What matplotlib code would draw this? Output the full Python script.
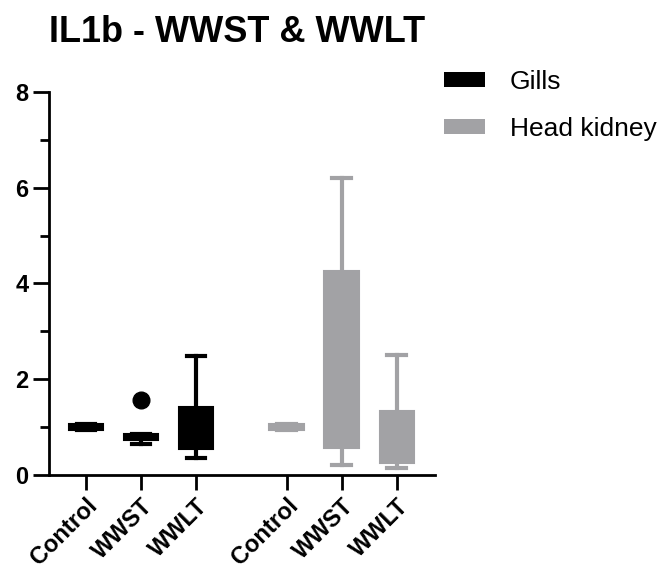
import matplotlib
matplotlib.use("Agg")
import matplotlib.pyplot as plt
from matplotlib.patches import Patch
from matplotlib.ticker import MultipleLocator

plt.rcParams['font.family'] = ['Liberation Sans', 'DejaVu Sans']

# box statistics (gills first, then head kidney)
groups = ["Control", "WWST", "WWLT", "Control", "WWST", "WWLT"]
tissue = ["Gills", "Gills", "Gills", "Head kidney", "Head kidney", "Head kidney"]
q1 = [0.94, 0.73, 0.55, 0.94, 0.57, 0.26]
med = [1.0, 0.80, 0.90, 1.0, 1.50, 0.60]
q3 = [1.06, 0.86, 1.41, 1.06, 4.27, 1.34]
whislo = [0.94, 0.65, 0.36, 0.94, 0.20, 0.15]
whishi = [1.06, 0.86, 2.48, 1.06, 6.20, 2.50]
fliers = [[], [1.56], [], [], [], []]
positions = [1, 2, 3, 4.65, 5.65, 6.65]

colors = {"Gills": "#000000", "Head kidney": "#a2a2a5"}

fig = plt.figure(figsize=(6.6, 5.72), dpi=100)
ax = fig.add_axes([0.0747, 0.1696, 0.5845, 0.6696])

for i in range(len(groups)):
    c = colors[tissue[i]]
    st = dict(q1=q1[i], med=med[i], q3=q3[i], whislo=whislo[i],
              whishi=whishi[i], fliers=fliers[i], label=groups[i])
    ax.bxp([st], positions=[positions[i]], widths=0.62, capwidths=0.33,
           patch_artist=True, manage_ticks=False,
           boxprops=dict(facecolor=c, edgecolor=c, linewidth=1.5),
           medianprops=dict(color=c, linewidth=1),
           whiskerprops=dict(color=c, linewidth=3),
           capprops=dict(color=c, linewidth=3),
           flierprops=dict(marker="o", markerfacecolor=c, markeredgecolor=c,
                           markersize=12))

ax.set_xlim(0.338, 7.35)
ax.set_ylim(0, 8)
ax.set_xticks(positions)
ax.set_xticklabels(groups, fontsize=17, fontweight="bold", rotation=45,
                   ha="right", rotation_mode="anchor")
ax.yaxis.set_major_locator(MultipleLocator(2))
ax.yaxis.set_minor_locator(MultipleLocator(1))
for lab in ax.get_yticklabels():
    lab.set_fontweight("bold")
ax.tick_params(axis="y", which="major", labelsize=17, length=11.5, width=2, pad=3.5)
ax.tick_params(axis="y", which="minor", length=6.2, width=2)
ax.tick_params(axis="x", which="major", length=11, width=2, pad=3)
for s in ["top", "right"]:
    ax.spines[s].set_visible(False)
for s in ["left", "bottom"]:
    ax.spines[s].set_linewidth(2)

fig.text(0.0745, 0.9266, "IL1b - WWST & WWLT", fontsize=26, fontweight="bold",
         ha="left", va="baseline")

handles = [Patch(facecolor=colors["Gills"], edgecolor="none"),
           Patch(facecolor=colors["Head kidney"], edgecolor="none")]
fig.legend(handles, ["Gills", "Head kidney"], loc="upper left",
           bbox_to_anchor=(0.6727, 0.8773), frameon=False, fontsize=19,
           handlelength=1.55, handleheight=0.5, handletextpad=0.95,
           labelspacing=0.85, borderpad=0, borderaxespad=0)

fig.savefig("out.png", dpi=100)
